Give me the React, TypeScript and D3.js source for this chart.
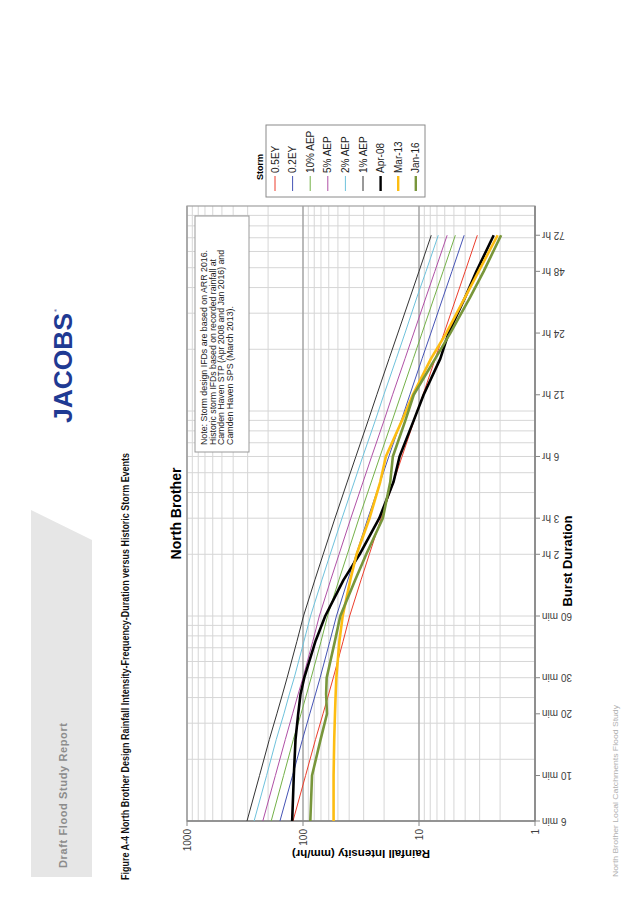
import React from 'react';
import * as d3 from 'd3';

// burst durations (minutes)
const durations = [6, 10, 15, 20, 25, 30, 45, 60, 90, 120, 180, 270, 360, 540, 720, 1080, 1440, 2160, 2880, 4320];

// rainfall intensity (mm/hr)
const ey05 = [122, 95, 78, 67.2, 60, 54.8, 45.2, 39.6, 31.6, 26.8, 21.2, 16.6, 14.0, 11.0, 9.24, 7.24, 6.08, 4.76, 4.0, 3.14];
const ey02 = [158, 123, 101, 87.4, 78, 71.2, 58.8, 51.5, 41.1, 34.8, 27.6, 21.6, 18.2, 14.2, 12.0, 9.41, 7.9, 6.19, 5.2, 4.08];
const aep10 = [188, 147, 121, 104, 93, 85, 70, 61.4, 49, 41.5, 32.9, 25.8, 21.7, 17.0, 14.3, 11.2, 9.42, 7.38, 6.2, 4.86];
const aep5 = [222, 173, 142, 123, 110, 100, 82.5, 72.3, 57.7, 48.9, 38.7, 30.4, 25.6, 20.0, 16.9, 13.2, 11.1, 8.69, 7.3, 5.72];
const aep2 = [264, 206, 170, 146, 131, 119, 98.3, 86.1, 68.7, 58.3, 46.1, 36.2, 30.5, 23.8, 20.1, 15.7, 13.2, 10.4, 8.7, 6.82];
const aep1 = [304, 237, 195, 168, 150, 137, 113, 99, 79, 67, 53, 41.6, 35, 27.4, 23.1, 18.1, 15.2, 11.9, 10.0, 7.84];
const apr08 = [124, 120, 116, 110, 105, 97.5, 78.3, 64.3, 44.7, 32.5, 22, 16.6, 14.7, 11.1, 9.12, 6.55, 5.56, 3.99, 3.2, 2.27];
const mar13 = [54.5, 54.5, 53.8, 53, 52.3, 51.6, 48.6, 45.5, 39.1, 34.5, 26.7, 21.6, 19.3, 14.0, 11.3, 7.88, 5.82, 3.99, 3.06, 2.1];
const jan16 = [86.5, 83.6, 70.5, 62.1, 63.2, 62.5, 53.2, 47.7, 35.5, 28.5, 20.5, 17.7, 16.8, 13.1, 11.1, 7.24, 5.37, 3.61, 2.77, 1.96];

const seriesNames = ['0.5EY', '0.2EY', '10% AEP', '5% AEP', '2% AEP', '1% AEP', 'Apr-08', 'Mar-13', 'Jan-16'];
const seriesValues = [ey05, ey02, aep10, aep5, aep2, aep1, apr08, mar13, jan16];
const seriesColors = ['#ec3d2c', '#4553b5', '#74b148', '#b050a6', '#6ec2dc', '#333333', '#000000', '#fdbd12', '#78963b'];
const seriesWidths = [1, 1, 1, 1, 1, 1, 2.6, 2.6, 2.6];

const xTickValues = [6, 10, 20, 30, 60, 120, 180, 360, 720, 1440, 2880, 4320];
const xTickLabels = ['6 min', '10 min', '20 min', '30 min', '60 min', '2 hr', '3 hr', '6 hr', '12 hr', '24 hr', '48 hr', '72 hr'];
const yTickValues = [1, 10, 100, 1000];

const noteLines = [
  'Note: Storm design IFDs are based on ARR 2016.',
  'Historic storm IFDs based on recorded rainfall at',
  'Camden Haven STP (Apr 2008 and Jan 2016) and',
  'Camden Haven SPS (March 2013).',
];
const noteWidths = [195, 186, 195, 139];

// page is drawn landscape (907 x 642) then turned to portrait
const PAGE_W = 907;
const plot = { left: 86, right: 701, top: 187, bottom: 535 };
const font = 'Liberation Sans, Arial, sans-serif';

export default function App() {
  const x = d3.scaleLog().domain([6, 6000]).range([plot.left, plot.right]);
  const y = d3.scaleLog().domain([1, 1000]).range([plot.bottom, plot.top]);

  const xGrid: number[] = [];
  [6, 60, 600].forEach((b) => d3.range(1, 10).forEach((k) => xGrid.push(b * k)));
  const yMinor: number[] = [];
  [1, 10, 100].forEach((b) => d3.range(2, 10).forEach((k) => yMinor.push(b * k)));

  const line = d3
    .line<[number, number]>()
    .x((d) => x(d[0]))
    .y((d) => y(d[1]));

  const midY = (plot.top + plot.bottom) / 2;
  const midX = (plot.left + plot.right) / 2;

  return (
    <svg
      width={642}
      height={907}
      style={{ position: 'absolute', left: 0, top: 0, background: '#fff' }}
      fontFamily={font}
    >
      <g transform={`translate(0,${PAGE_W}) rotate(-90)`}>
        {/* header band */}
        <polygon points="30,31 397,31 367,92 30,92" fill="#e6e6e6" />
        <text x={39} y={67} fontSize={11} fontWeight="bold" fill="#8c8c8c" textLength={145} lengthAdjust="spacing">
          Draft Flood Study Report
        </text>
        <text x={484} y={72} fontSize={26} fontWeight={900} fill="#1f3a93" textLength={110} lengthAdjust="spacingAndGlyphs">
          JACOBS
        </text>
        <text x={595} y={57} fontSize={4} fill="#1f3a93">®</text>
        <text x={27} y={129} fontSize={10.5} fontWeight="bold" fill="#111" textLength={427} lengthAdjust="spacingAndGlyphs">
          Figure A-4 North Brother Design Rainfall  Intensity-Frequency-Duration versus Historic Storm Events
        </text>
        <text x={30} y={618} fontSize={8} fill="#b0b0b0" textLength={172} lengthAdjust="spacingAndGlyphs">
          North Brother Local Catchments Flood Study
        </text>

        {/* chart title */}
        <text x={midX} y={181} fontSize={14} fontWeight="bold" textAnchor="middle" fill="#000">
          North Brother
        </text>

        {/* grid */}
        {xGrid.map((v) => (
          <line key={'xg' + v} x1={x(v)} x2={x(v)} y1={plot.top} y2={plot.bottom} stroke="#d6d6d6" strokeWidth={1} />
        ))}
        {yMinor.map((v) => (
          <line key={'yg' + v} x1={plot.left} x2={plot.right} y1={y(v)} y2={y(v)} stroke="#d6d6d6" strokeWidth={1} />
        ))}
        {yTickValues.map((v) => (
          <line key={'ym' + v} x1={plot.left} x2={plot.right} y1={y(v)} y2={y(v)} stroke="#a3a3a3" strokeWidth={1.5} />
        ))}
        <rect
          x={plot.left}
          y={plot.top}
          width={plot.right - plot.left}
          height={plot.bottom - plot.top}
          fill="none"
          stroke="#a0a0a0"
          strokeWidth={1.2}
        />
        <line x1={plot.left} x2={plot.right} y1={plot.bottom} y2={plot.bottom} stroke="#868686" strokeWidth={1.5} />
        <line x1={plot.left} x2={plot.left} y1={plot.top} y2={plot.bottom} stroke="#868686" strokeWidth={1.5} />

        {/* axes */}
        {xTickValues.map((v, i) => (
          <g key={'xt' + v}>
            <line x1={x(v)} x2={x(v)} y1={plot.bottom} y2={plot.bottom + 5} stroke="#868686" />
            <text
              x={x(v)}
              y={plot.bottom + 7}
              dy="0.35em"
              fontSize={10}
              fill="#404040"
              textAnchor="end"
              transform={`rotate(-90,${x(v)},${plot.bottom + 7})`}
            >
              {xTickLabels[i]}
            </text>
          </g>
        ))}
        {yTickValues.map((v) => (
          <g key={'yt' + v}>
            <line x1={plot.left - 5} x2={plot.left} y1={y(v)} y2={y(v)} stroke="#868686" />
            <text x={plot.left - 8} y={y(v)} dy="0.35em" fontSize={10} fill="#404040" textAnchor="end">
              {v}
            </text>
          </g>
        ))}
        <text x={346} y={572} fontSize={13} fontWeight="bold" textAnchor="middle" fill="#000">
          Burst Duration
        </text>
        <text
          x={57}
          y={midY}
          fontSize={11.5}
          fontWeight="bold"
          textAnchor="middle"
          fill="#000"
          transform={`rotate(-90,57,${midY})`}
        >
          Rainfall Intensity (mm/hr)
        </text>

        {/* note */}
        <rect x={455} y={195} width={236} height={54} fill="#fff" stroke="#9a9a9a" strokeWidth={1} />
        {noteLines.map((t, i) => (
          <text
            key={t}
            x={462}
            y={207 + i * 8.6}
            fontSize={9.6}
            fill="#222"
            textLength={noteWidths[i]}
            lengthAdjust="spacingAndGlyphs"
          >
            {t}
          </text>
        ))}

        {/* series */}
        <g>
          {seriesValues.map((vals, i) => (
            <path
              key={seriesNames[i]}
              d={line(durations.map((d, j) => [d, vals[j]] as [number, number])) || ''}
              fill="none"
              stroke={seriesColors[i]}
              strokeWidth={seriesWidths[i]}
              strokeLinejoin="round"
            />
          ))}
        </g>

        {/* legend */}
        <text x={727} y={263} fontSize={9} fontWeight="bold" fill="#000">
          Storm
        </text>
        <rect x={710} y={266} width={72} height={159} fill="#fff" stroke="#8a8a8a" strokeWidth={1} />
        {seriesNames.map((n, i) => {
          const cy = 275 + i * 17.6;
          return (
            <g key={'lg' + n}>
              <line x1={716} x2={731} y1={cy} y2={cy} stroke={seriesColors[i]} strokeWidth={seriesWidths[i] > 1 ? 2.4 : 1} />
              <text x={734} y={cy} dy="0.35em" fontSize={10} fill="#222">
                {n}
              </text>
            </g>
          );
        })}
      </g>
    </svg>
  );
}
